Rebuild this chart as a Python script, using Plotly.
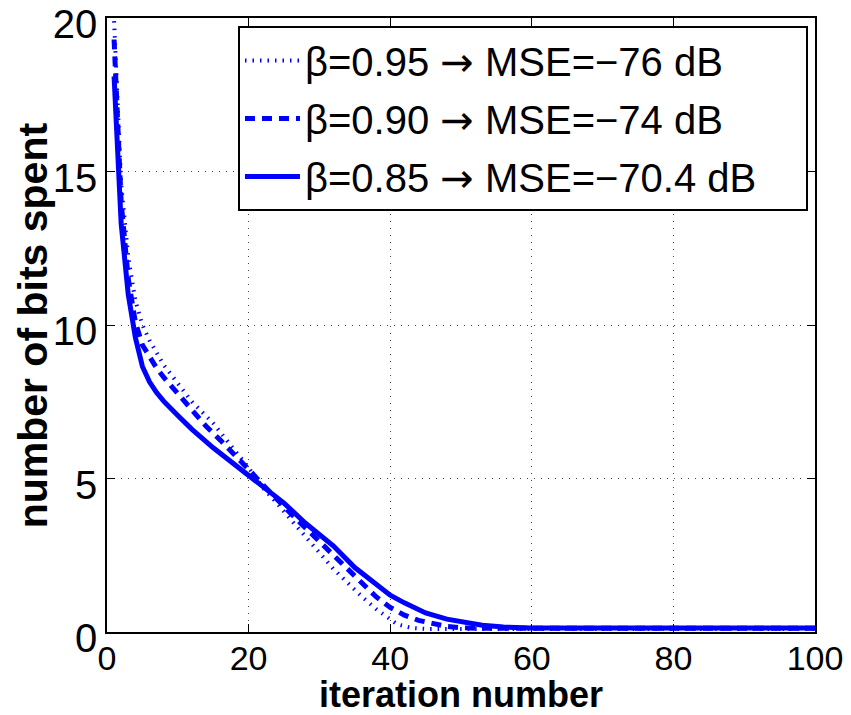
import plotly.graph_objects as go

# iteration numbers and bits spent
x_095 = [1, 2, 3, 4, 5, 6, 8, 10, 12, 15, 18, 20, 22, 24, 26, 28, 30, 32, 34, 36, 38, 40, 41, 43, 45, 50, 60, 70, 80, 90, 100]
y_095 = [19.9, 14.6, 12.2, 10.8, 10.0, 9.5, 8.7, 8.1, 7.5, 6.8, 5.95, 5.35, 4.7, 4.2, 3.65, 3.1, 2.55, 2.05, 1.6, 1.15, 0.75, 0.4, 0.25, 0.13, 0.1, 0.1, 0.1, 0.1, 0.1, 0.1, 0.1]

x_090 = [1, 2, 3, 4, 5, 6, 7, 8, 10, 12, 14, 16, 18, 20, 22, 24, 26, 28, 30, 32, 34, 36, 38, 40, 42, 44, 46, 48, 50, 52, 60, 70, 80, 90, 100]
y_090 = [19.3, 14.0, 11.5, 10.1, 9.35, 8.95, 8.6, 8.3, 7.75, 7.25, 6.7, 6.25, 5.8, 5.3, 4.8, 4.3, 3.85, 3.4, 2.95, 2.5, 2.0, 1.55, 1.15, 0.8, 0.55, 0.38, 0.27, 0.18, 0.14, 0.12, 0.12, 0.12, 0.12, 0.12, 0.12]

x_085 = [1, 2, 3, 4, 5, 6, 7, 8, 10, 12, 15, 18, 20, 22, 25, 28, 30, 32, 35, 38, 40, 42, 45, 48, 50, 53, 56, 60, 70, 80, 90, 100]
y_085 = [18.1, 13.3, 11.0, 9.6, 8.65, 8.15, 7.8, 7.52, 7.05, 6.6, 6.0, 5.45, 5.1, 4.75, 4.2, 3.55, 3.15, 2.8, 2.1, 1.55, 1.2, 0.95, 0.62, 0.42, 0.33, 0.22, 0.16, 0.13, 0.13, 0.13, 0.13, 0.13]

betas = ["0.95", "0.90", "0.85"]
mses = ["−76", "−74", "−70.4"]
x_ticks = [0, 20, 40, 60, 80, 100]
y_ticks = [0, 5, 10, 15, 20]
x_title = "iteration number"
y_title = "number of bits spent"

FONT = "Liberation Sans, Arial, sans-serif"
BLUE = "#0000FF"
ARROW = '<span style="font-family:DejaVu Sans">→</span>'
PAD = "\u00a0" * 4
labels = [f"β={b} {ARROW} MSE={m} dB{PAD}" for b, m in zip(betas, mses)]

fig = go.Figure()
fig.add_trace(go.Scatter(x=x_095, y=y_095, mode="lines", name=labels[0], legendgroup="a",
                         line=dict(color=BLUE, width=4, dash="1.5px,6px")))
fig.add_trace(go.Scatter(x=x_090, y=y_090, mode="lines", name=labels[1], legendgroup="b",
                         line=dict(color=BLUE, width=5, dash="10px,7px")))
fig.add_trace(go.Scatter(x=x_085, y=y_085, mode="lines", name=labels[2], legendgroup="c",
                         line=dict(color=BLUE, width=5)))

axis_common = dict(
    showline=True, linecolor="black", linewidth=1.5, mirror="ticks",
    ticks="inside", ticklen=8, tickwidth=1, tickcolor="black",
    showgrid=True, gridcolor="#444444", griddash="1px,6px", gridwidth=1,
    zeroline=False, ticklabeloverflow="allow", automargin=False,
)

fig.update_layout(
    width=851, height=715,
    margin=dict(l=107, r=36, t=18, b=83),
    paper_bgcolor="white", plot_bgcolor="white",
    font=dict(family=FONT, color="black"),
    xaxis=dict(range=[0, 100], tickvals=x_ticks, ticktext=[str(v) for v in x_ticks],
               tickfont=dict(family=FONT, size=34, color="black"), ticklabelstandoff=-5,
               **axis_common),
    yaxis=dict(range=[0, 20], tickvals=y_ticks, ticktext=[str(v) for v in y_ticks],
               tickfont=dict(family=FONT, size=40, color="black"), ticklabelshift=6,
               **axis_common),
    annotations=[
        dict(text=f"<b>{x_title}</b>", xref="paper", yref="paper", x=0.5, y=-0.1352,
             xanchor="center", yanchor="bottom", showarrow=False, yshift=-2,
             font=dict(family=FONT, size=36, color="black")),
        dict(text=f"<b>{y_title}</b>", xref="paper", yref="paper", x=-0.1040, y=0.5,
             xanchor="center", yanchor="middle", textangle=-90, showarrow=False,
             font=dict(family=FONT, size=41, color="black")),
    ],
    legend=dict(x=0.185, y=0.987, xanchor="left", yanchor="top",
                bgcolor="white", bordercolor="black", borderwidth=2,
                font=dict(family=FONT, size=40, color="black"),
                tracegroupgap=3, itemwidth=55),
    showlegend=True,
)

fig.write_html("out.html")
